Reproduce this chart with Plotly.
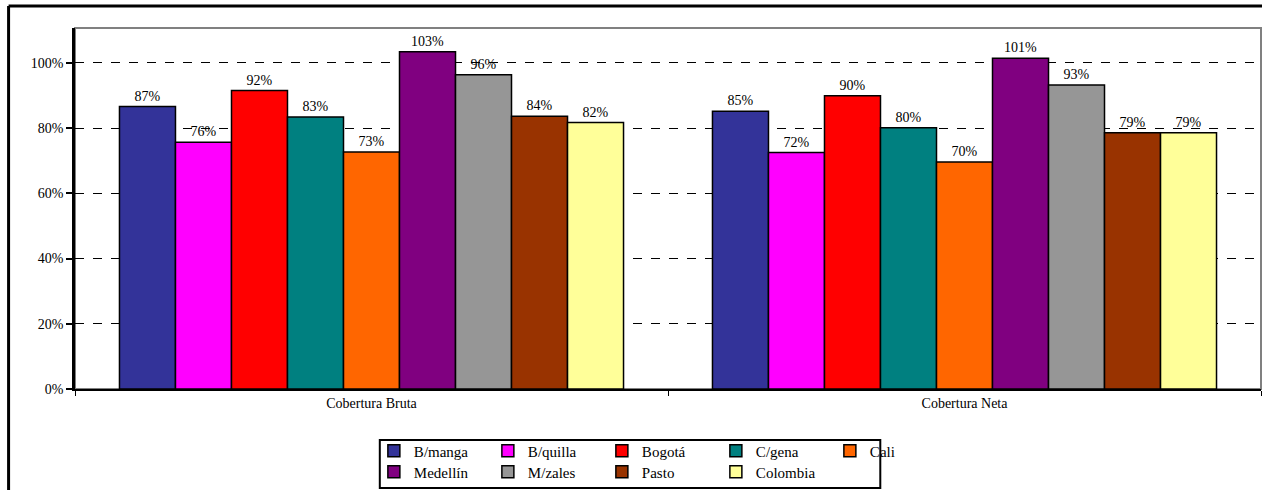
import plotly.graph_objects as go

# datos de cobertura por ciudad
categorias = ['Cobertura Bruta', 'Cobertura Neta']
ciudades = ['B/manga', 'B/quilla', 'Bogotá', 'C/gena', 'Cali',
            'Medellín', 'M/zales', 'Pasto', 'Colombia']
bruta = [0.866, 0.757, 0.915, 0.834, 0.727, 1.034, 0.964, 0.836, 0.817]
neta = [0.852, 0.725, 0.899, 0.801, 0.696, 1.014, 0.932, 0.786, 0.786]
colores = ['#333399', '#FF00FF', '#FF0000', '#008080', '#FF6600',
           '#800080', '#969696', '#993300', '#FFFF99']

fuente = 'Times New Roman, Liberation Serif, serif'

fig = go.Figure()
for i in range(len(ciudades)):
    # primera fila de la leyenda: 5 ciudades, segunda fila: el resto
    ley = 'legend' if i < 5 else 'legend2'
    fig.add_trace(go.Bar(
        x=categorias, y=[bruta[i], neta[i]], name=ciudades[i], legend=ley,
        marker=dict(color=colores[i], line=dict(color='black', width=1.5)),
        text=['{:.0%}'.format(bruta[i]), '{:.0%}'.format(neta[i])],
        textposition='outside', cliponaxis=False,
        textfont=dict(family=fuente, size=14, color='black')))

ley_comun = dict(orientation='h', xanchor='left', yanchor='middle',
                 bgcolor='rgba(0,0,0,0)', borderwidth=0, entrywidth=69,
                 font=dict(family=fuente, size=15, color='black'),
                 traceorder='normal', itemwidth=30)

fig.update_layout(
    width=1262, height=490,
    margin=dict(l=75, r=1, t=28, b=101, autoexpand=False),
    paper_bgcolor='white', plot_bgcolor='white',
    barmode='group', bargap=0.15, bargroupgap=0,
    font=dict(family=fuente, size=13, color='black'),
    showlegend=True,
    legend=dict(ley_comun, x=0.252, y=-0.172),
    legend2=dict(ley_comun, x=0.252, y=-0.230),
    xaxis=dict(showline=True, linecolor='black', linewidth=2, automargin=False,
               ticks='outside', tickson='boundaries', ticklen=5, tickcolor='black',
               tickfont=dict(family=fuente, size=14), showgrid=False),
    yaxis=dict(range=[0, 1.107], tickvals=[0, 0.2, 0.4, 0.6, 0.8, 1.0],
               tickformat='.0%', showline=True, linecolor='black', linewidth=2.5,
               automargin=False,
               ticks='outside', ticklen=6, tickwidth=2, tickcolor='black',
               showgrid=True, gridcolor='black', gridwidth=1.2, griddash='dash',
               zeroline=False, tickfont=dict(family=fuente, size=14)),
    shapes=[
        dict(type='rect', xref='paper', yref='paper', x0=0, x1=1, y0=0, y1=1,
             line=dict(color='#808080', width=2), layer='below'),
        dict(type='rect', xref='paper', yref='paper', x0=0.257, x1=0.679,
             y0=-0.141, y1=-0.274, line=dict(color='black', width=2)),
        dict(type='line', xref='paper', yref='paper', x0=-0.056, x1=1.01,
             y0=1.061, y1=1.061, line=dict(color='black', width=3)),
        dict(type='line', xref='paper', yref='paper', x0=-0.056, x1=-0.056,
             y0=1.061, y1=-0.29, line=dict(color='black', width=3)),
    ])

# quitar el margen del body para que el grafico ocupe toda la ventana
fig.write_html('out.html', config={'displayModeBar': False},
               post_script="document.body.style.margin='0';")
